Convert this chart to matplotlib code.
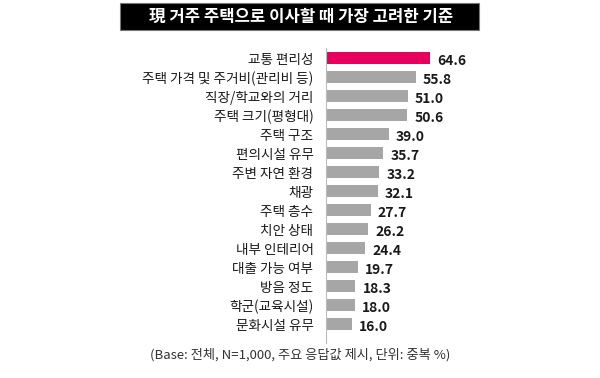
import matplotlib.pyplot as plt
import matplotlib.patches as mpatches

plt.rcParams['font.family'] = ['Noto Sans CJK KR', 'DejaVu Sans']

# DATA
# ----------------------------------------------------------------------
categories = ['교통 편리성', '주택 가격 및 주거비(관리비 등)', '직장/학교와의 거리',
              '주택 크기(평형대)', '주택 구조', '편의시설 유무', '주변 자연 환경',
              '채광', '주택 층수', '치안 상태', '내부 인테리어', '대출 가능 여부',
              '방음 정도', '학군(교육시설)', '문화시설 유무']
values = [64.6, 55.8, 51.0, 50.6, 39.0, 35.7, 33.2, 32.1,
          27.7, 26.2, 24.4, 19.7, 18.3, 18.0, 16.0]

title_text = '現 거주 주택으로 이사할 때 가장 고려한 기준'
note_text = '(Base: 전체, N=1,000, 주요 응답값 제시, 단위: 중복 %)'

# COLOURS
# ----------------------------------------------------------------------
pink = '#E8005E'
gray = '#A6A6A6'
text_color = '#1A1A1A'

W, H = 600, 378
fig = plt.figure(figsize=(W / 100, H / 100), dpi=100, facecolor='white')

# title bar
fig.patches.append(mpatches.Rectangle((120 / W, 1 - 30 / H), 359 / W, 27 / H,
                                      transform=fig.transFigure,
                                      facecolor='black', edgecolor='#777777',
                                      linewidth=0.8))
fig.text(301 / W, 1 - 16.5 / H, title_text, ha='center', va='center',
         fontsize=12, fontweight='bold', color='white')

# bar chart
ax = fig.add_axes([326 / W, 35 / H, 161 / W, 295 / H])
colors = [pink] + [gray] * (len(values) - 1)
ax.barh(range(len(values)), values, height=0.62, color=colors, edgecolor='none')
ax.set_xlim(0, 100)
ax.set_ylim(15.0, -0.53)

for i, v in enumerate(values):
    ax.text(v + 4.3, i + 0.15, f'{v:.1f}', ha='left', va='center',
            fontsize=10, fontweight='bold', color=text_color)

ax.set_yticks(range(len(categories)))
ax.set_yticklabels(categories, fontsize=9.8, color=text_color)
ax.tick_params(axis='y', length=0, pad=9)
ax.set_xticks([])
for s in ['top', 'right', 'bottom']:
    ax.spines[s].set_visible(False)
ax.spines['left'].set_color('#BBBBBB')
ax.spines['left'].set_linewidth(0.8)

fig.text(300 / W, 1 - 355 / H, note_text, ha='center', va='center',
         fontsize=9.5, color='#333333')

plt.savefig('out.png', dpi=100, facecolor='white')
